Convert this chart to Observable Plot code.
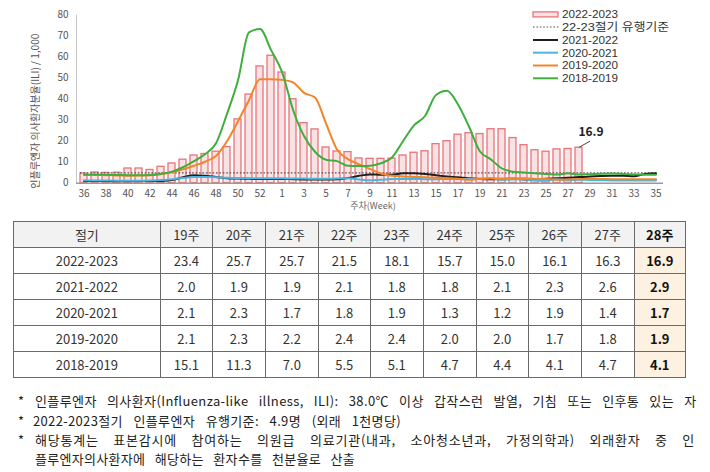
<!DOCTYPE html>
<html><head><meta charset="utf-8">
<script src="https://cdn.jsdelivr.net/npm/d3@7"></script>
<script src="https://cdn.jsdelivr.net/npm/@observablehq/plot@0.6"></script>
<style>
body{margin:0;background:#fff;font-family:"Noto Sans CJK KR","Noto Sans",sans-serif;}
#wrap{position:relative;width:710px;height:472px;overflow:hidden;background:#fff;}
#wrap > svg{position:absolute;left:0;top:0;}
table{position:absolute;left:13px;top:221px;border-collapse:collapse;table-layout:fixed;width:672px;font-size:13px;color:#333;font-family:"Noto Sans CJK KR",sans-serif;}
td{border:1px solid #6a6a6a;text-align:center;padding:0;height:25px;line-height:14px;}
tr.head td{background:#f2f2f2;}
td.hl{background:#fdf2e2;font-weight:bold;color:#111;}
</style></head><body>
<div id="wrap"></div>
<script>
// ---- data ----
const weeks = ["36","37","38","39","40","41","42","43","44","45","46","47","48","49","50","51","52","53",
  "1","2","3","4","5","6","7","8","9","10","11","12","13","14","15","16","17","18","19","20",
  "21","22","23","24","25","26","27","28","29","30","31","32","33","34","35"];
const xTickWeeks = ["36","38","40","42","44","46","48","50","52","1","3","5","7","9","11","13","15","17","19","21","23","25","27","29","31","33","35"];
const yTicks = [0,10,20,30,40,50,60,70,80];

const s2223 = [4.6,5.1,4.9,5.0,7.0,7.0,6.3,7.8,9.4,11.2,13.2,13.9,15.0,17.2,30.4,42.2,55.6,60.7,
  52.7,40.0,28.6,25.6,17.0,15.1,14.8,11.8,11.6,11.6,11.7,13.2,14.5,15.2,18.6,20.0,23.1,23.8,
  23.4,25.7,25.7,21.5,18.1,15.7,15.0,16.1,16.3,16.9];
const s2122 = [1.0,1.0,1.0,0.9,0.9,1.0,1.0,1.1,1.5,2.8,3.8,3.5,3.0,2.4,2.2,2.1,2.0,2.0,
  2.0,1.9,1.8,1.8,1.8,1.9,2.5,3.5,4.2,4.0,4.0,4.7,4.7,4.4,3.8,3.2,2.8,2.3,
  2.0,1.9,1.9,2.1,1.8,1.8,2.1,2.3,2.6,2.9,3.2,3.4,3.5,3.5,3.3,4.4,4.7];
const s2021 = [1.4,1.3,1.3,1.2,1.2,1.2,1.3,1.5,1.9,2.5,2.9,2.9,2.8,2.6,2.5,2.4,2.4,2.3,
  2.3,2.2,2.2,2.1,2.1,2.2,2.3,1.8,1.4,1.6,2.0,2.0,2.0,1.9,1.9,2.0,2.0,2.1,
  2.1,2.3,1.7,1.8,1.9,1.3,1.2,1.9,1.4,1.7,1.5,1.4,1.3,1.3,1.3,1.3,1.3];
const s1920 = [4.0,3.9,3.8,3.7,3.6,3.7,3.8,4.3,5.2,6.6,8.3,10.2,13.0,20.0,29.5,39.5,49.5,49.5,
  49.2,48.0,43.0,40.8,28.5,16.0,11.5,9.0,6.8,4.6,3.5,3.2,3.0,2.8,2.6,2.4,2.1,1.6,
  2.1,2.3,2.2,2.4,2.4,2.0,2.0,1.7,1.8,1.9,2.0,2.0,1.9,1.9,1.9,1.9,1.9];
const s1819 = [4.0,4.1,4.0,3.9,3.8,3.8,3.9,4.5,5.5,7.6,10.5,13.8,19.0,33.0,49.0,71.8,73.4,63.5,
  53.0,35.0,22.5,15.0,11.2,10.5,8.3,8.2,8.3,9.5,12.2,20.0,27.5,32.0,42.0,44.0,37.5,27.0,
  15.1,11.3,7.0,5.5,5.1,4.7,4.4,4.1,4.7,4.1,4.3,4.5,4.6,4.4,4.2,4.0,4.0];
const threshold = 4.9;
const annotation = [{week1:"28", value1:17.1, week2:"29", value2:20.0, label:"16.9"}];

const seasons = ["2022-2023","2021-2022","2020-2021","2019-2020","2018-2019"];
const seriesBySeason = {"2022-2023": s2223, "2021-2022": s2122, "2020-2021": s2021, "2019-2020": s1920, "2018-2019": s1819};
const colors = {"2021-2022":"#1f1f1f","2020-2021":"#4db6e0","2019-2020":"#f2842a","2018-2019":"#3fae3f"};
const tableWeeks = ["19","20","21","22","23","24","25","26","27","28"];

const yLabel = "인플루엔자 의사환자분율(ILI) / 1,000";
const xLabel = "주차(Week)";
const legendItems = [
  {label:"2022-2023", kind:"bar"},
  {label:"22-23절기 유행기준", kind:"dot"},
  {label:"2021-2022", kind:"line", color:colors["2021-2022"]},
  {label:"2020-2021", kind:"line", color:colors["2020-2021"]},
  {label:"2019-2020", kind:"line", color:colors["2019-2020"]},
  {label:"2018-2019", kind:"line", color:colors["2018-2019"]}
];
const notes = [
  {star:true, text:"인플루엔자 의사환자(Influenza-like illness, ILI): 38.0℃ 이상 갑작스런 발열, 기침 또는 인후통 있는 자"},
  {star:true, text:"2022-2023절기 인플루엔자 유행기준: 4.9명 (외래 1천명당)"},
  {star:true, text:"해당통계는 표본감시에 참여하는 의원급 의료기관(내과, 소아청소년과, 가정의학과) 외래환자 중 인"},
  {star:false, text:"플루엔자의사환자에 해당하는 환자수를 천분율로 산출"}
];

// ---- build ----
const toRows = (vals, season) => vals.map((v, i) => ({week: weeks[i], value: v, season}));
const bars = toRows(s2223, "2022-2023");
const lineSeasons = ["2021-2022","2020-2021","2019-2020","2018-2019"];
const lineMarks = lineSeasons.map(s => Plot.lineY(toRows(seriesBySeason[s], s), {
  x: "week", y: "value", stroke: colors[s], strokeWidth: 2, curve: "monotone-x"
}));
const font = '"Noto Sans CJK KR","Noto Sans",sans-serif';

const chart = Plot.plot({
  width: 710, height: 215,
  marginLeft: 76, marginRight: 47, marginTop: 14.7, marginBottom: 32.3,
  style: {fontFamily: font, fontSize: "10px", color: "#555", background: "transparent", overflow: "visible"},
  x: {type: "band", domain: weeks, paddingInner: 0.32, paddingOuter: 0.27, label: null},
  y: {domain: [0, 80], label: null},
  marks: [
    Plot.frame({anchor: "left", stroke: "#c8c8c8"}),
    Plot.barY(bars, {x: "week", y: "value", fill: "#f9e2e3", stroke: "#e8747a", strokeWidth: 1.3}),
    Plot.ruleY([threshold], {stroke: "#555", strokeWidth: 1.2, strokeDasharray: "1.6,1.8", insetLeft: 4, insetRight: 6}),
    ...lineMarks,
    Plot.ruleY([0], {stroke: "#9a9a9a", strokeWidth: 1.6}),
    Plot.link(annotation, {x1: "week1", y1: "value1", x2: "week2", y2: "value2", stroke: "#444", strokeWidth: 1}),
    Plot.text(annotation, {x: "week2", y: "value2", text: "label", dx: 1, dy: -9, fontWeight: "bold", fontSize: 12, fill: "#222"}),
    Plot.axisY({ticks: yTicks, tickSize: 0, tickPadding: 8, label: null, fontSize: 10}),
    Plot.axisX({ticks: xTickWeeks, tickSize: 0, tickPadding: 7, label: null, fontSize: 10}),
    Plot.text([yLabel], {frameAnchor: "left", textAnchor: "middle", rotate: -90, dx: -41, dy: 12, fontSize: 10, fill: "#555"}),
    Plot.text([xLabel], {frameAnchor: "bottom", dx: 3, dy: 26, fontSize: 9, fill: "#666"})
  ]
});
const wrap = document.getElementById("wrap");
wrap.append(chart);

// legend
const lg = d3.select(wrap).append("svg").attr("width", 710).attr("height", 100)
  .style("font-family", '"Liberation Sans","Noto Sans CJK KR",sans-serif').style("font-size", "11px");
const lgY = [14.5, 27, 40, 52.7, 65.5, 78.3];
legendItems.forEach((d, i) => {
  const y = lgY[i];
  if (d.kind === "bar") {
    lg.append("rect").attr("x", 533).attr("y", y - 2.6).attr("width", 25).attr("height", 5)
      .attr("fill", "#f9e2e3").attr("stroke", "#e8747a").attr("stroke-width", 1.3);
  } else if (d.kind === "dot") {
    lg.append("line").attr("x1", 533).attr("x2", 560).attr("y1", y).attr("y2", y)
      .attr("stroke", "#555").attr("stroke-width", 1.2).attr("stroke-dasharray", "1.6,1.8");
  } else {
    lg.append("line").attr("x1", 533).attr("x2", 558).attr("y1", y).attr("y2", y)
      .attr("stroke", d.color).attr("stroke-width", 2);
  }
  lg.append("text").attr("x", 562).attr("y", y).attr("dy", "0.36em").attr("fill", "#333")
    .attr("textLength", d.kind === "dot" ? 107 : 56).attr("lengthAdjust", "spacingAndGlyphs").text(d.label);
});

// table
const table = d3.select(wrap).append("table");
const colW = [146.7,52.3,52.7,53.3,51.7,53.3,52.7,52.3,52.7,53.3,50.7];
const cg = table.append("colgroup");
colW.forEach(w => cg.append("col").style("width", w + "px"));
const head = table.append("tr").attr("class", "head");
head.append("td").text("절기");
tableWeeks.forEach((w, i) => head.append("td").attr("class", i === tableWeeks.length - 1 ? "hl" : null).text(w + "주"));
seasons.forEach(s => {
  const tr = table.append("tr");
  tr.append("td").text(s);
  tableWeeks.forEach((w, i) => {
    const v = seriesBySeason[s][weeks.indexOf(w)];
    tr.append("td").attr("class", i === tableWeeks.length - 1 ? "hl" : null).text(v.toFixed(1));
  });
});

// footnotes: justified to the reference line ends (extra width split between letters and word gaps)
const fn = d3.select(wrap).append("svg").attr("width", 710).attr("height", 472)
  .style("font-family", font).style("font-size", "13px").style("pointer-events", "none");
const noteY = [401.5, 421.5, 440.5, 459];
const noteX = [35, 33, 35, 35];
const noteW = [662, 368, 660, 320];
notes.forEach((n, i) => {
  if (n.star) fn.append("text").attr("x", 18).attr("y", noteY[i]).attr("dy", "0.36em").attr("fill", "#222").text("*");
  const t = fn.append("text").attr("x", noteX[i]).attr("y", noteY[i]).attr("dy", "0.36em").attr("fill", "#222")
    .attr("letter-spacing", "-0.2px").text(n.text);
  const natural = t.node().getComputedTextLength();
  const gaps = (n.text.match(/ /g) || []).length;
  const chars = n.text.length;
  const extra = noteW[i] - natural;
  if (extra > 0) {
    const ls = -0.2 + (extra * 0.35) / chars;
    const ws = (extra * 0.65) / gaps;
    t.attr("letter-spacing", ls.toFixed(2) + "px").attr("word-spacing", ws.toFixed(2) + "px");
  } else {
    t.attr("textLength", noteW[i]).attr("lengthAdjust", "spacingAndGlyphs");
  }
});
</script>
</body></html>
